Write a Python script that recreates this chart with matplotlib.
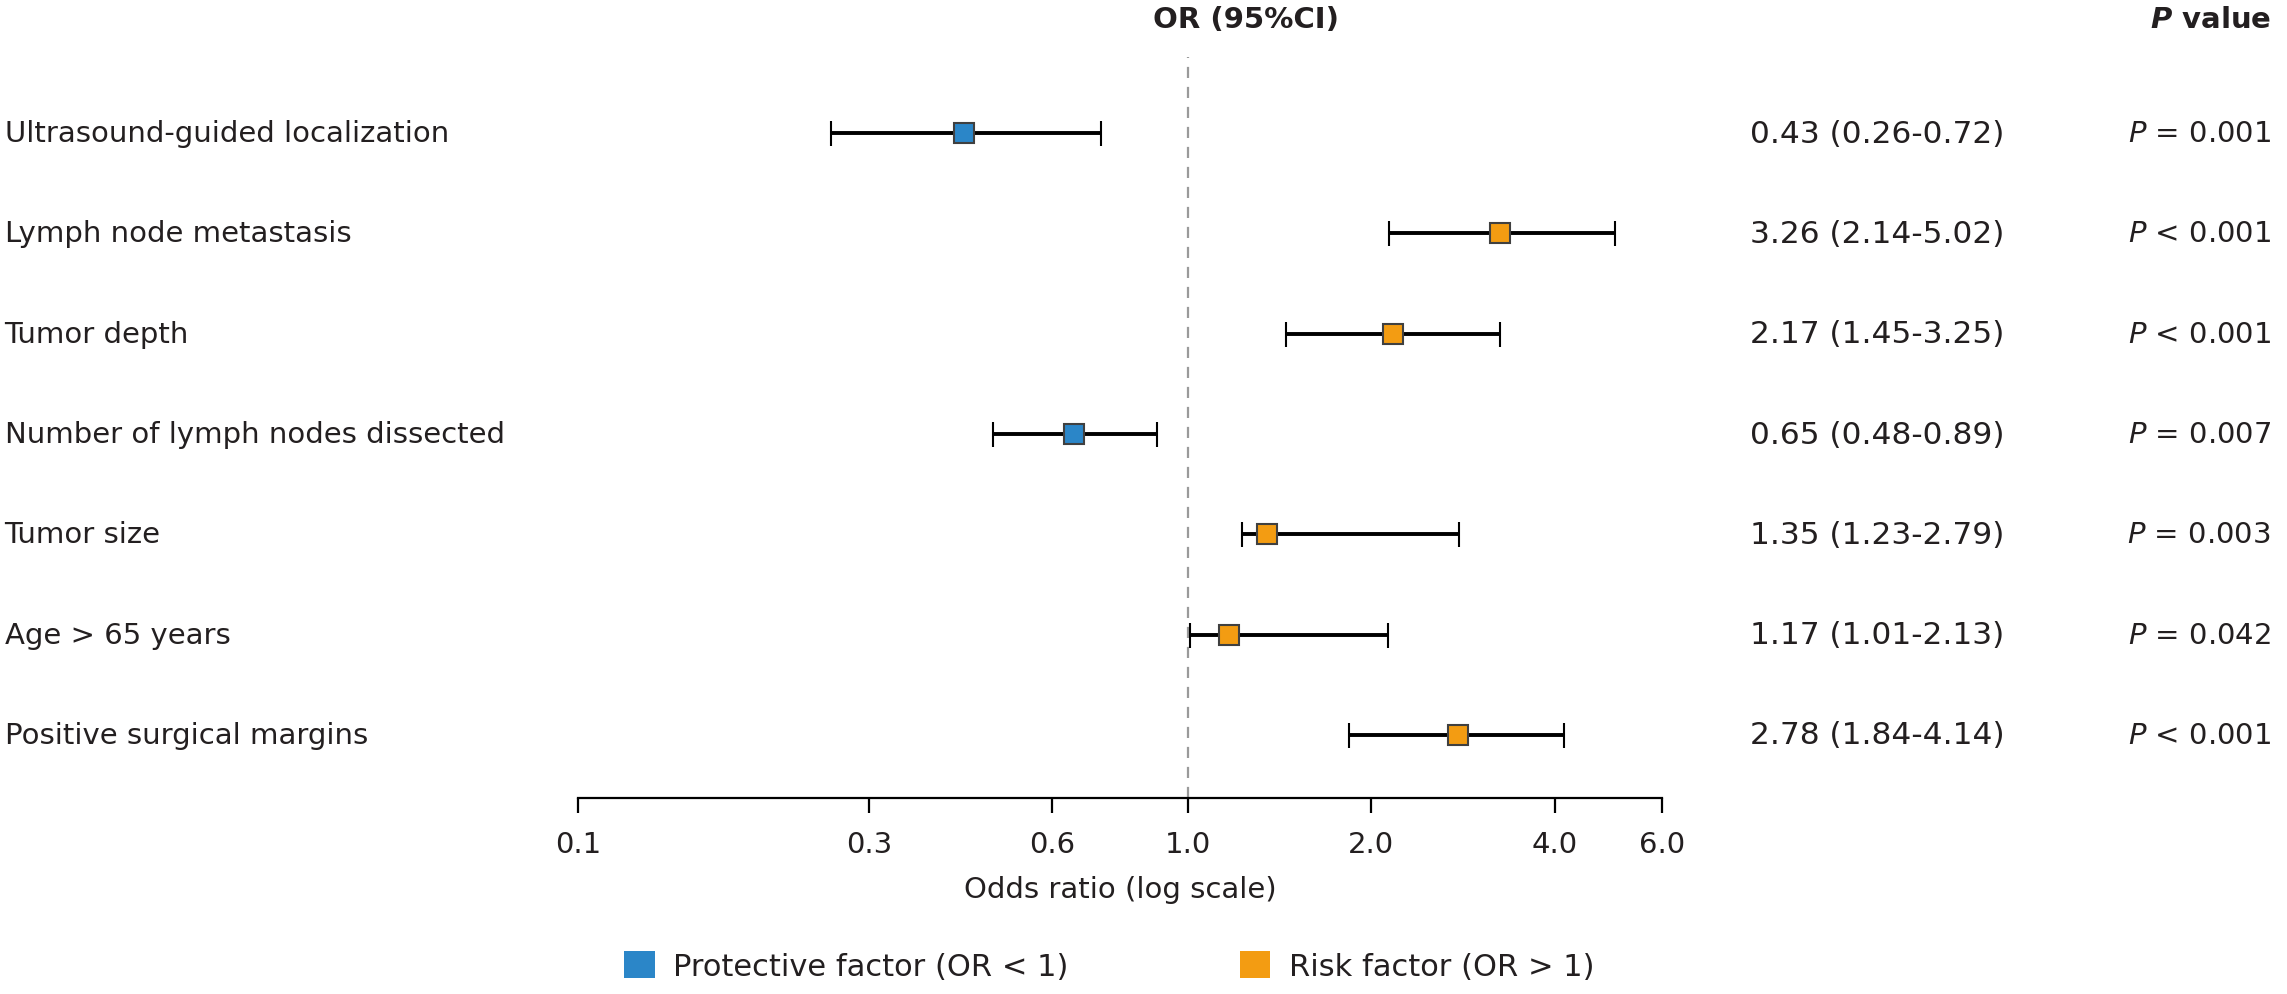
import matplotlib
matplotlib.use("Agg")
import matplotlib.pyplot as plt
from matplotlib.patches import Patch
from matplotlib.transforms import blended_transform_factory

# datos del forest plot
factores = [
    "Ultrasound-guided localization",
    "Lymph node metastasis",
    "Tumor depth",
    "Number of lymph nodes dissected",
    "Tumor size",
    "Age > 65 years",
    "Positive surgical margins",
]
odds = [0.43, 3.26, 2.17, 0.65, 1.35, 1.17, 2.78]
ci_low = [0.26, 2.14, 1.45, 0.48, 1.23, 1.01, 1.84]
ci_high = [0.72, 5.02, 3.25, 0.89, 2.79, 2.13, 4.14]
p_textos = ["= 0.001", "< 0.001", "< 0.001", "= 0.007", "= 0.003", "= 0.042", "< 0.001"]
ticks_x = [0.1, 0.3, 0.6, 1.0, 2.0, 4.0, 6.0]

AZUL = "#2b86c8"
NARANJA = "#f39c12"
TXT = "#231f20"
FS = 21

plt.rcParams["font.family"] = ["DejaVu Sans"]
plt.rcParams["mathtext.fontset"] = "dejavusans"

fig = plt.figure(figsize=(22.87, 9.95), dpi=100)
ax = fig.add_axes([0.2527, 0.197, 0.7267 - 0.2527, 0.9417 - 0.197])

ax.axvline(1.0, color="#9a9a9a", lw=1.6, ls=(0, (5, 4)), zorder=1)

for i, (o, lo, hi) in enumerate(zip(odds, ci_low, ci_high)):
    color = AZUL if o < 1 else NARANJA
    ax.errorbar(o, i, xerr=[[o - lo], [hi - o]], fmt="s", color="black",
                ecolor="black", elinewidth=2.8, capsize=9, capthick=2.6,
                markersize=15, markerfacecolor=color, markeredgecolor="#404040",
                markeredgewidth=1.5, zorder=3)

ax.set_xscale("log")
ax.set_xlim(0.1, 6.0)
ax.set_ylim(6.63, -0.76)
ax.set_xticks(ticks_x)
ax.set_xticklabels([f"{t:.1f}" for t in ticks_x])
ax.minorticks_off()
ax.tick_params(axis="x", length=11, width=1.6, pad=12, labelsize=FS, labelcolor=TXT)
ax.set_yticks([])
for s in ["top", "right", "left"]:
    ax.spines[s].set_visible(False)
ax.spines["bottom"].set_linewidth(1.6)
ax.set_xlabel("Odds ratio (log scale)", fontsize=FS, color=TXT, labelpad=12)

# textos de la tabla
tr = blended_transform_factory(fig.transFigure, ax.transData)
for i, nombre in enumerate(factores):
    ax.text(0.002, i, nombre, transform=tr, ha="left", va="center",
            fontsize=FS, color=TXT)
    ax.text(0.765, i, f"{odds[i]:.2f} ({ci_low[i]:.2f}-{ci_high[i]:.2f})",
            transform=tr, ha="left", va="center", fontsize=FS + 1.5, color=TXT)
    ax.text(0.993, i, r"$P$ " + p_textos[i], transform=tr, ha="right",
            va="center", fontsize=FS, color=TXT)

fig.text(0.545, 0.98, "OR (95%CI)", ha="center", va="center",
         fontsize=FS, fontweight="bold", color=TXT)
fig.text(0.993, 0.98, r"$\mathbfit{P}$ value", ha="right", va="center",
         fontsize=FS, fontweight="bold", color=TXT)

handles = [Patch(facecolor=AZUL, label="Protective factor (OR < 1)"),
           Patch(facecolor=NARANJA, label="Risk factor (OR > 1)")]
fig.legend(handles=handles, loc="center", bbox_to_anchor=(0.485, 0.028),
           ncol=2, frameon=False, fontsize=FS + 1, handlelength=1.0,
           handleheight=1.0, handletextpad=0.6, columnspacing=5.6,
           labelcolor=TXT)

fig.savefig("out.png", dpi=100)
